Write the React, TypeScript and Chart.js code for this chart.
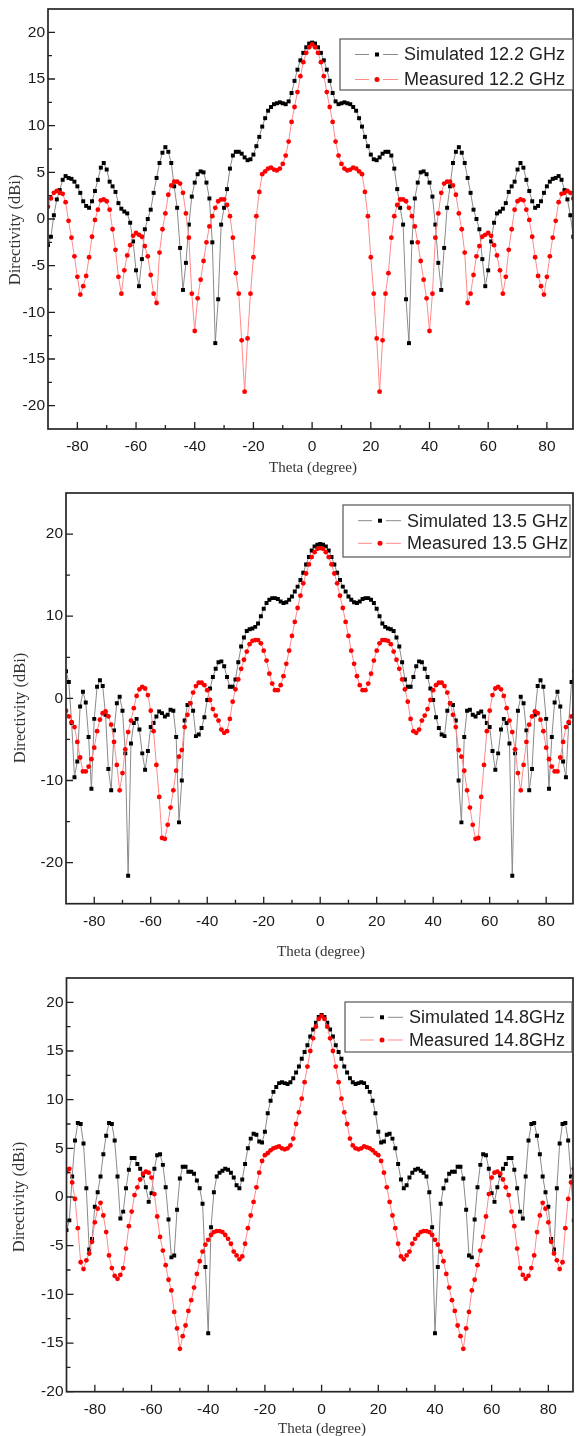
import React, { useEffect, useRef } from 'react';
import { Chart, registerables } from 'chart.js';

Chart.register(...registerables);

// ---------- data (theta in degrees, directivity in dBi) ----------
const theta: number[] = Array.from({ length: 181 }, (_, i) => i - 90);

const sim122 = [
  -2.8, -1.9, 0.4, 2.1, 3.1, 4.2, 4.6, 4.4, 4.3, 4.0,
  3.5, 2.8, 1.9, 1.4, 1.2, 1.9, 3.0, 4.2, 5.5, 6.0,
  5.3, 4.0, 3.5, 2.9, 1.7, 1.1, 0.8, 0.6, -0.4, -2.4,
  -5.5, -7.2, -4.3, -1.1, 0.0, 1.0, 2.8, 4.4, 6.0, 7.1,
  7.7, 7.2, 6.0, 3.5, 1.2, -3.1, -7.6, -4.7, -0.6, 2.4,
  3.9, 4.8, 5.1, 5.0, 3.9, 2.2, -2.5, -13.3, -8.6, -0.6,
  1.2, 3.2, 5.4, 6.8, 7.2, 7.2, 7.0, 6.6, 6.3, 6.4,
  6.9, 7.8, 8.8, 9.9, 10.8, 11.6, 12.0, 12.3, 12.4, 12.5,
  12.4, 12.3, 12.6, 13.5, 14.8, 16.0, 17.0, 17.8, 18.4, 18.8,
  18.9,
  18.8, 18.4, 17.8, 17.0, 16.0, 14.8, 13.5, 12.6, 12.3, 12.4,
  12.5, 12.4, 12.3, 12.0, 11.6, 10.8, 9.9, 8.8, 7.8, 6.9,
  6.4, 6.3, 6.6, 7.0, 7.2, 7.2, 6.8, 5.4, 3.2, 1.2,
  -0.6, -8.6, -13.3, -2.5, 2.2, 3.9, 5.0, 5.1, 4.8, 3.9,
  2.4, -0.6, -4.7, -7.6, -3.1, 1.2, 3.5, 6.0, 7.2, 7.7,
  7.1, 6.0, 4.4, 2.8, 1.0, 0.0, -1.1, -4.3, -7.2, -5.5,
  -2.4, -0.4, 0.6, 0.8, 1.1, 1.7, 2.9, 3.5, 4.0, 5.3,
  6.0, 5.5, 4.2, 3.0, 1.9, 1.2, 1.4, 1.9, 2.8, 3.5,
  4.0, 4.3, 4.4, 4.6, 4.2, 3.1, 2.1, 0.4, -1.9, -2.8,
];

const meas122 = [
  1.3, 2.2, 2.8, 3.0, 2.8, 2.7, 1.8, -0.2, -2.0, -4.0,
  -6.2, -8.1, -7.2, -6.1, -4.1, -1.9, -0.1, 1.0, 2.0, 2.1,
  1.9, 1.0, -1.1, -3.3, -6.2, -8.0, -5.5, -3.9, -2.8, -1.8,
  -1.5, -1.7, -1.9, -2.9, -4.0, -6.0, -8.0, -9.0, -3.6, -1.1,
  0.6, 2.6, 3.6, 4.0, 4.0, 3.8, 2.8, 0.6, -2.0, -8.0,
  -12.0, -8.5, -6.5, -4.5, -2.5, -0.8, 0.3, 1.2, 1.9, 2.1,
  2.1, 1.5, 0.3, -2.0, -5.8, -8.0, -13.0, -18.5, -12.8, -8.0,
  -4.1, 0.3, 2.9, 4.8, 5.1, 5.4, 5.5, 5.3, 5.2, 5.4,
  5.9, 6.8, 8.3, 10.4, 12.0, 13.6, 15.3, 16.8, 17.8, 18.4,
  18.7,
  18.4, 17.8, 16.8, 15.3, 13.6, 12.0, 10.4, 8.3, 6.8, 5.9,
  5.4, 5.2, 5.3, 5.5, 5.4, 5.1, 4.8, 2.9, 0.3, -4.1,
  -8.0, -12.8, -18.5, -13.0, -8.0, -5.8, -2.0, 0.3, 1.5, 2.1,
  2.1, 1.9, 1.2, 0.3, -0.8, -2.5, -4.5, -6.5, -8.5, -12.0,
  -8.0, -2.0, 0.6, 2.8, 3.8, 4.0, 4.0, 3.6, 2.6, 0.6,
  -1.1, -3.6, -9.0, -8.0, -6.0, -4.0, -2.9, -1.9, -1.7, -1.5,
  -1.8, -2.8, -3.9, -5.5, -8.0, -6.2, -3.3, -1.1, 1.0, 1.9,
  2.1, 2.0, 1.0, -0.1, -1.9, -4.1, -6.1, -7.2, -8.1, -6.2,
  -4.0, -2.0, -0.2, 1.8, 2.7, 2.8, 3.0, 2.8, 2.2, 1.3,
];

const sim135 = [
  3.3, 2.0, -3.0, -9.6, -7.7, -1.0, 0.8, -0.5, -4.7, -11.0,
  -2.5, 1.4, 2.2, 1.5, -2.0, -8.6, -11.2, -3.9, -0.6, 0.2,
  -1.5, -6.7, -21.6, -5.5, -3.0, -2.5, -3.8, -6.7, -8.7, -6.4,
  -3.5, -3.0, -2.2, -1.6, -1.8, -2.2, -2.0, -1.4, -1.5, -4.7,
  -15.1, -10.0, -2.7, -0.8, -0.6, -1.5, -4.6, -4.4, -3.6, -2.3,
  -0.2, 1.2, 2.6, 3.6, 4.4, 4.5, 3.9, 2.6, 1.4, 1.4,
  2.3, 4.4, 6.3, 7.4, 8.2, 8.4, 8.5, 8.7, 9.1, 10.0,
  10.9, 11.6, 12.0, 12.2, 12.2, 12.1, 11.8, 11.6, 11.7, 12.0,
  12.4, 13.0, 13.6, 14.4, 15.3, 16.3, 17.2, 18.0, 18.5, 18.7,
  18.8,
  18.7, 18.5, 18.0, 17.2, 16.3, 15.3, 14.4, 13.6, 13.0, 12.4,
  12.0, 11.7, 11.6, 11.8, 12.1, 12.2, 12.2, 12.0, 11.6, 10.9,
  10.0, 9.1, 8.7, 8.5, 8.4, 8.2, 7.4, 6.3, 4.4, 2.3,
  1.4, 1.4, 2.6, 3.9, 4.5, 4.4, 3.6, 2.6, 1.2, -0.2,
  -2.3, -3.6, -4.4, -4.6, -1.5, -0.6, -0.8, -2.7, -10.0, -15.1,
  -4.7, -1.5, -1.4, -2.0, -2.2, -1.8, -1.6, -2.2, -3.0, -3.5,
  -6.4, -8.7, -6.7, -3.8, -2.5, -3.0, -5.5, -21.6, -6.7, -1.5,
  0.2, -0.6, -3.9, -11.2, -8.6, -2.0, 1.5, 2.2, 1.4, -2.5,
  -11.0, -4.7, -0.5, 0.8, -1.0, -7.7, -9.6, -3.0, 2.0, 3.3,
];

const meas135 = [
  -1.5, -2.2, -2.9, -3.5, -5.3, -7.2, -8.9, -8.9, -8.3, -7.4,
  -6.0, -4.0, -2.6, -1.8, -1.6, -2.2, -3.2, -5.3, -8.1, -11.2,
  -9.1, -6.2, -4.1, -2.7, -1.2, 0.3, 1.1, 1.4, 1.2, 0.4,
  -1.5, -4.0, -8.1, -12.0, -17.0, -17.1, -15.4, -13.3, -11.2, -8.8,
  -7.1, -6.3, -3.5, -2.0, -0.6, 0.7, 1.5, 1.9, 1.9, 1.6,
  1.0, -0.2, -1.3, -2.1, -2.7, -3.8, -4.2, -4.0, -2.5, -0.4,
  1.1, 2.3, 3.6, 4.7, 5.7, 6.6, 7.0, 7.1, 7.1, 6.7,
  5.8, 4.6, 3.0, 1.8, 1.0, 1.0, 1.6, 2.7, 4.2, 5.8,
  7.6, 9.3, 11.0, 12.5, 14.0, 15.2, 16.3, 17.2, 17.8, 18.2,
  18.3,
  18.2, 17.8, 17.2, 16.3, 15.2, 14.0, 12.5, 11.0, 9.3, 7.6,
  5.8, 4.2, 2.7, 1.6, 1.0, 1.0, 1.8, 3.0, 4.6, 5.8,
  6.7, 7.1, 7.1, 7.0, 6.6, 5.7, 4.7, 3.6, 2.3, 1.1,
  -0.4, -2.5, -4.0, -4.2, -3.8, -2.7, -2.1, -1.3, -0.2, 1.0,
  1.6, 1.9, 1.9, 1.5, 0.7, -0.6, -2.0, -3.5, -6.3, -7.1,
  -8.8, -11.2, -13.3, -15.4, -17.1, -17.0, -12.0, -8.1, -4.0, -1.5,
  0.4, 1.2, 1.4, 1.1, 0.3, -1.2, -2.7, -4.1, -6.2, -9.1,
  -11.2, -8.1, -5.3, -3.2, -2.2, -1.6, -1.8, -2.6, -4.0, -6.0,
  -7.4, -8.3, -8.9, -8.9, -7.2, -5.3, -3.5, -2.9, -2.2, -1.5,
];

const sim148 = [
  -3.4, -2.4, 2.1, 5.8, 7.6, 7.5, 5.5, 0.9, -5.4, -4.3,
  -1.0, 0.5, 2.1, 4.4, 6.3, 7.6, 7.5, 5.8, 2.1, -2.2,
  -1.5, 0.9, 2.8, 4.0, 4.0, 3.4, 2.9, 2.2, 1.0, -0.5,
  0.4, 2.9, 4.3, 4.4, 3.3, 1.0, -2.3, -6.2, -6.0, -1.3,
  1.9, 3.1, 3.1, 2.6, 2.6, 2.4, 1.7, 0.9, -0.7, -7.2,
  -14.0, -3.1, 0.5, 2.1, 2.5, 2.7, 2.9, 2.8, 2.5, 2.0,
  1.2, 0.9, 1.8, 3.4, 5.0, 6.0, 6.5, 6.4, 5.7, 5.6,
  6.7, 8.6, 9.9, 10.8, 11.3, 11.7, 11.8, 11.7, 11.6, 11.8,
  12.2, 12.8, 13.4, 14.2, 14.9, 15.6, 16.5, 17.2, 17.9, 18.5,
  18.7,
  18.5, 17.9, 17.2, 16.5, 15.6, 14.9, 14.2, 13.4, 12.8, 12.2,
  11.8, 11.6, 11.7, 11.8, 11.7, 11.3, 10.8, 9.9, 8.6, 6.7,
  5.6, 5.7, 6.4, 6.5, 6.0, 5.0, 3.4, 1.8, 0.9, 1.2,
  2.0, 2.5, 2.8, 2.9, 2.7, 2.5, 2.1, 0.5, -3.1, -14.0,
  -7.2, -0.7, 0.9, 1.7, 2.4, 2.6, 2.6, 3.1, 3.1, 1.9,
  -1.3, -6.0, -6.2, -2.3, 1.0, 3.3, 4.4, 4.3, 2.9, 0.4,
  -0.5, 1.0, 2.2, 2.9, 3.4, 4.0, 4.0, 2.8, 0.9, -1.5,
  -2.2, 2.1, 5.8, 7.5, 7.6, 6.3, 4.4, 2.1, 0.5, -1.0,
  -4.3, -5.4, 0.9, 5.5, 7.5, 7.6, 5.8, 2.1, -2.4, -3.4,
];

const meas148 = [
  2.6, 2.9, 1.5, -0.2, -3.2, -6.7, -7.4, -6.5, -5.8, -4.6,
  -2.6, -1.2, -0.6, -1.9, -3.6, -6.0, -7.3, -8.1, -8.4, -8.0,
  -7.3, -5.3, -3.0, -1.5, 0.2, 1.0, 1.8, 2.4, 2.6, 2.5,
  2.0, 0.3, -2.0, -4.1, -5.5, -7.0, -8.5, -9.6, -11.8, -13.5,
  -15.6, -14.3, -13.2, -11.7, -10.6, -9.3, -7.9, -6.6, -5.6, -4.9,
  -4.4, -3.9, -3.6, -3.5, -3.5, -3.6, -3.9, -4.3, -4.8, -5.6,
  -6.0, -6.4, -6.1, -4.8, -3.2, -1.9, -0.5, 1.0, 2.5, 3.7,
  4.3, 4.5, 4.8, 5.0, 5.1, 5.2, 5.0, 4.9, 5.0, 5.3,
  6.0, 7.5, 8.7, 10.1, 11.8, 13.4, 15.0, 16.3, 17.5, 18.3,
  18.6,
  18.3, 17.5, 16.3, 15.0, 13.4, 11.8, 10.1, 8.7, 7.5, 6.0,
  5.3, 5.0, 4.9, 5.0, 5.2, 5.1, 5.0, 4.8, 4.5, 4.3,
  3.7, 2.5, 1.0, -0.5, -1.9, -3.2, -4.8, -6.1, -6.4, -6.0,
  -5.6, -4.8, -4.3, -3.9, -3.6, -3.5, -3.5, -3.6, -3.9, -4.4,
  -4.9, -5.6, -6.6, -7.9, -9.3, -10.6, -11.7, -13.2, -14.3, -15.6,
  -13.5, -11.8, -9.6, -8.5, -7.0, -5.5, -4.1, -2.0, 0.3, 2.0,
  2.5, 2.6, 2.4, 1.8, 1.0, 0.2, -1.5, -3.0, -5.3, -7.3,
  -8.0, -8.4, -8.1, -7.3, -6.0, -3.6, -1.9, -0.6, -1.2, -2.6,
  -4.6, -5.8, -6.5, -7.4, -6.7, -3.2, -0.2, 1.5, 2.9, 2.6,
];

// ---------- tick labels ----------
const xTickLabels = [-80, -60, -40, -20, 0, 20, 40, 60, 80];
const xMinorTicks = [-70, -50, -30, -10, 10, 30, 50, 70];
const yTicksA = [-20, -15, -10, -5, 0, 5, 10, 15, 20];
const yMinorA = [-17.5, -12.5, -7.5, -2.5, 2.5, 7.5, 12.5, 17.5];
const yTicksB = [-20, -10, 0, 10, 20];
const yMinorB = [-15, -5, 5, 15];

const legendSim = ['Simulated 12.2 GHz', 'Simulated 13.5 GHz', 'Simulated 14.8GHz'];
const legendMeas = ['Measured 12.2 GHz', 'Measured 13.5 GHz', 'Measured 14.8GHz'];
const xTitle = 'Theta (degree)';
const yTitle = 'Directivity (dBi)';

const TICK_FONT = '15.5px "Liberation Sans", Arial, sans-serif';
const XTITLE_FONT = '15px "Liberation Serif", "Times New Roman", serif';
const YTITLE_FONT = '16.5px "Liberation Serif", "Times New Roman", serif';
const LEGEND_FONT = '18px "Liberation Sans", Arial, sans-serif';

const SIM_LINE = '#8a8a8a';
const MEAS_LINE = '#ff8a8a';

type Panel = {
  top: number;
  height: number;
  pad: { left: number; top: number; right: number; bottom: number };
  xMax: number;
  yMin: number;
  yMax: number;
  yMajor: number[];
  yMinor: number[];
  sim: number[];
  meas: number[];
  simLabel: string;
  measLabel: string;
  legend: { x1: number; x2: number; y1: number; y2: number; r1: number; r2: number };
  xTitlePos: [number, number];
  yTitlePos: [number, number];
};

const panels: Panel[] = [
  {
    top: 0, height: 482,
    pad: { left: 48, top: 9, right: 2, bottom: 53 },
    xMax: 88.9, yMin: -22.5, yMax: 22.5,
    yMajor: yTicksA, yMinor: yMinorA,
    sim: sim122, meas: meas122,
    simLabel: legendSim[0], measLabel: legendMeas[0],
    legend: { x1: 340, x2: 573, y1: 39, y2: 90, r1: 54.5, r2: 79.5 },
    xTitlePos: [313, 468], yTitlePos: [15.5, 230],
  },
  {
    top: 482, height: 482,
    pad: { left: 66, top: 11, right: 2.5, bottom: 60.3 },
    xMax: 89.5, yMin: -25, yMax: 25,
    yMajor: yTicksB, yMinor: yMinorB,
    sim: sim135, meas: meas135,
    simLabel: legendSim[1], measLabel: legendMeas[1],
    legend: { x1: 343, x2: 570, y1: 23, y2: 75, r1: 38.7, r2: 61.3 },
    xTitlePos: [321, 470], yTitlePos: [21, 226],
  },
  {
    top: 964, height: 472,
    pad: { left: 66.5, top: 14, right: 2, bottom: 44.3 },
    xMax: 88.7, yMin: -20, yMax: 22.5,
    yMajor: yTicksA, yMinor: yMinorA,
    sim: sim148, meas: meas148,
    simLabel: legendSim[2], measLabel: legendMeas[2],
    legend: { x1: 345, x2: 572, y1: 38, y2: 88, r1: 53.3, r2: 76 },
    xTitlePos: [322, 465], yTitlePos: [20, 233],
  },
];

function makeAxesPlugin(p: Panel) {
  return {
    id: 'customAxes',
    afterDraw(chart: any) {
      const { ctx, chartArea: a } = chart;
      const xs = chart.scales.x;
      const ys = chart.scales.y;
      ctx.save();

      // ticks (inward)
      ctx.strokeStyle = '#1e1e1e';
      ctx.lineWidth = 1.3;
      ctx.beginPath();
      xTickLabels.forEach((v) => {
        const px = xs.getPixelForValue(v);
        ctx.moveTo(px, a.bottom);
        ctx.lineTo(px, a.bottom - 7);
      });
      xMinorTicks.forEach((v) => {
        const px = xs.getPixelForValue(v);
        ctx.moveTo(px, a.bottom);
        ctx.lineTo(px, a.bottom - 4);
      });
      p.yMajor.forEach((v) => {
        const py = ys.getPixelForValue(v);
        ctx.moveTo(a.left, py);
        ctx.lineTo(a.left + 7, py);
      });
      p.yMinor.forEach((v) => {
        const py = ys.getPixelForValue(v);
        ctx.moveTo(a.left, py);
        ctx.lineTo(a.left + 4, py);
      });
      ctx.stroke();

      // frame
      ctx.lineWidth = 1.7;
      ctx.strokeStyle = '#262626';
      ctx.strokeRect(a.left, a.top, a.right - a.left, a.bottom - a.top);

      // tick labels
      ctx.fillStyle = '#1a1a1a';
      ctx.font = TICK_FONT;
      ctx.textAlign = 'center';
      ctx.textBaseline = 'middle';
      xTickLabels.forEach((v) => ctx.fillText(String(v), xs.getPixelForValue(v), a.bottom + 18));
      ctx.textAlign = 'right';
      p.yMajor.forEach((v) => ctx.fillText(String(v), a.left - 3, ys.getPixelForValue(v)));

      // axis titles
      ctx.fillStyle = '#333';
      ctx.font = XTITLE_FONT;
      ctx.textAlign = 'center';
      ctx.fillText(xTitle, p.xTitlePos[0], p.xTitlePos[1]);
      ctx.font = YTITLE_FONT;
      ctx.save();
      ctx.translate(p.yTitlePos[0], p.yTitlePos[1]);
      ctx.rotate(-Math.PI / 2);
      ctx.fillText(yTitle, 0, 0);
      ctx.restore();

      // legend
      const L = p.legend;
      ctx.fillStyle = '#fff';
      ctx.fillRect(L.x1, L.y1, L.x2 - L.x1, L.y2 - L.y1);
      ctx.strokeStyle = '#555';
      ctx.lineWidth = 1.2;
      ctx.strokeRect(L.x1, L.y1, L.x2 - L.x1, L.y2 - L.y1);
      const sx1 = L.x1 + 15, sx2 = L.x1 + 58, mx = L.x1 + 37;
      // simulated row
      ctx.strokeStyle = SIM_LINE;
      ctx.lineWidth = 1;
      ctx.beginPath();
      ctx.moveTo(sx1, L.r1); ctx.lineTo(mx - 8, L.r1);
      ctx.moveTo(mx + 6, L.r1); ctx.lineTo(sx2, L.r1);
      ctx.stroke();
      ctx.fillStyle = '#000';
      ctx.fillRect(mx - 2, L.r1 - 2, 4, 4);
      // measured row
      ctx.strokeStyle = MEAS_LINE;
      ctx.beginPath();
      ctx.moveTo(sx1, L.r2); ctx.lineTo(mx - 8, L.r2);
      ctx.moveTo(mx + 6, L.r2); ctx.lineTo(sx2, L.r2);
      ctx.stroke();
      ctx.fillStyle = '#ff0000';
      ctx.beginPath();
      ctx.arc(mx, L.r2, 2.5, 0, Math.PI * 2);
      ctx.fill();
      // texts
      ctx.fillStyle = '#222';
      ctx.font = LEGEND_FONT;
      ctx.textAlign = 'left';
      ctx.textBaseline = 'middle';
      ctx.fillText(p.simLabel, L.x1 + 64, L.r1 + 1);
      ctx.fillText(p.measLabel, L.x1 + 64, L.r2 + 1);

      ctx.restore();
    },
  };
}

function PanelChart({ p }: { p: Panel }) {
  const ref = useRef<HTMLCanvasElement | null>(null);
  useEffect(() => {
    if (!ref.current) return;
    const chart = new Chart(ref.current, {
      type: 'line',
      data: {
        datasets: [
          {
            label: p.measLabel,
            data: theta.map((t, i) => ({ x: t, y: p.meas[i] })),
            borderColor: MEAS_LINE,
            borderWidth: 1,
            pointStyle: 'circle',
            pointRadius: 2.4,
            pointBackgroundColor: '#ff0000',
            pointBorderWidth: 0,
            tension: 0,
            order: 0,
          },
          {
            label: p.simLabel,
            data: theta.map((t, i) => ({ x: t, y: p.sim[i] })),
            borderColor: SIM_LINE,
            borderWidth: 1,
            pointStyle: 'rect',
            pointRadius: 2.8,
            pointBackgroundColor: '#000000',
            pointBorderWidth: 0,
            tension: 0,
            order: 1,
          },
        ],
      },
      options: {
        responsive: false,
        animation: false,
        devicePixelRatio: 1,
        layout: { padding: p.pad },
        plugins: { legend: { display: false }, tooltip: { enabled: false } },
        events: [],
        scales: {
          x: { type: 'linear', min: -90, max: p.xMax, display: false },
          y: { type: 'linear', min: p.yMin, max: p.yMax, display: false },
        },
      },
      plugins: [makeAxesPlugin(p)],
    } as any);
    return () => chart.destroy();
  }, [p]);
  return (
    <canvas
      ref={ref}
      width={577}
      height={p.height}
      style={{ position: 'absolute', left: 0, top: p.top, width: 577, height: p.height }}
    />
  );
}

export default function App() {
  return (
    <div style={{ position: 'absolute', left: 0, top: 0, width: 577, height: 1436, background: '#fff' }}>
      {panels.map((p, i) => (
        <PanelChart key={i} p={p} />
      ))}
    </div>
  );
}
